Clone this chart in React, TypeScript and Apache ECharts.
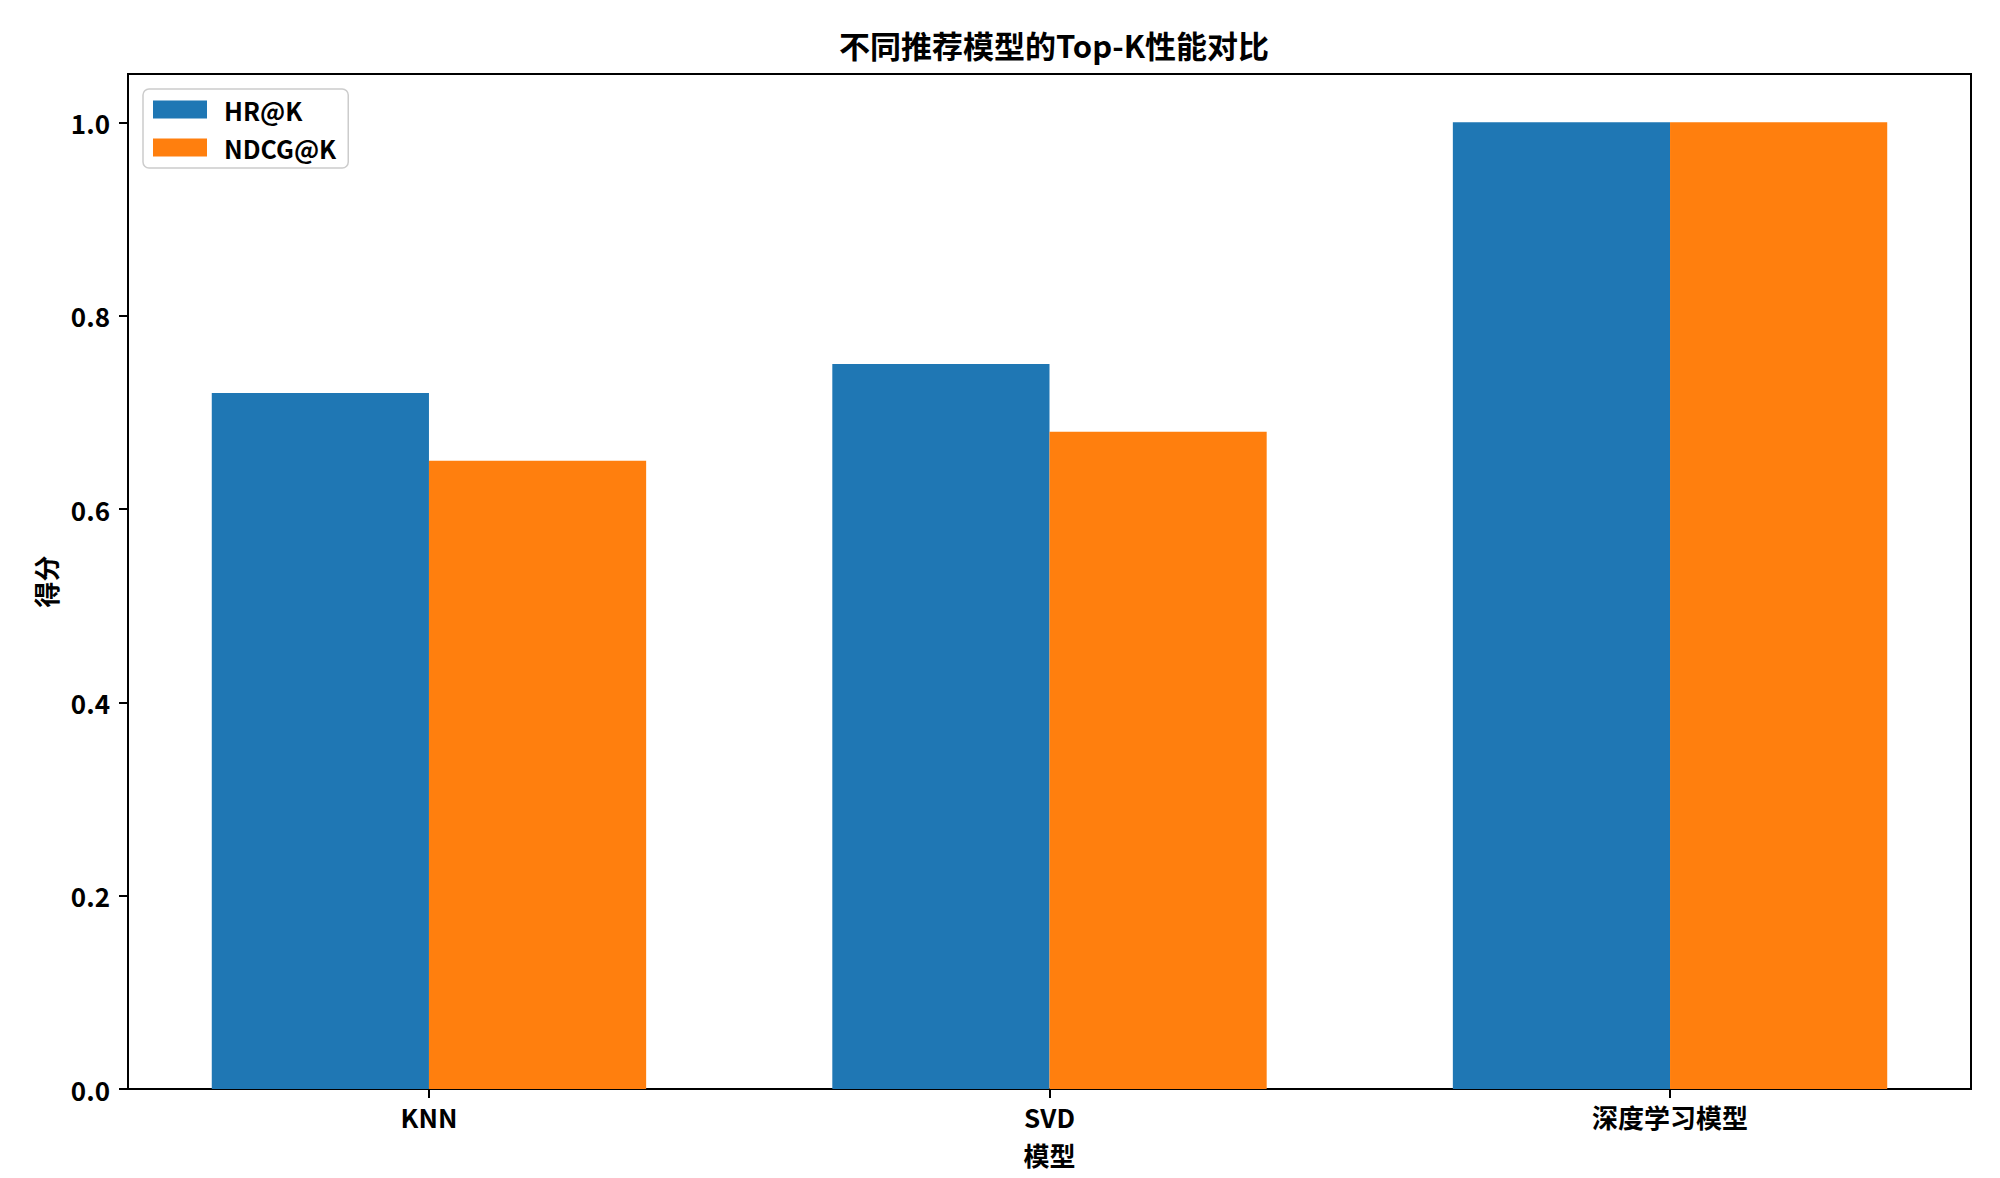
import React, { useEffect, useRef } from "react";
import * as echarts from "echarts";

const categories = ["KNN", "SVD", "深度学习模型"];
const hrValues = [0.72, 0.75, 1.0];
const ndcgValues = [0.65, 0.68, 1.0];
const yTicks = [0, 0.2, 0.4, 0.6, 0.8, 1.0];
const seriesNames = ["HR@K", "NDCG@K"];
const colors = ["#1f77b4", "#ff7f0e"];
const BAR_W = 0.35;
const FONT = "'Noto Sans CJK SC', sans-serif";
const WEIGHT = "bold";

function makeBarSeries(name: string, values: number[], offset: number, color: string) {
  return {
    type: "custom",
    name,
    itemStyle: { color },
    encode: { x: 0, y: 1 },
    data: values.map((v, i) => [i, v]),
    renderItem: (params: any, api: any) => {
      const x = api.value(0);
      const y = api.value(1);
      const p0 = api.coord([x + offset, 0]);
      const p1 = api.coord([x + offset + BAR_W, y]);
      return {
        type: "rect",
        shape: { x: p0[0], y: p1[1], width: p1[0] - p0[0], height: p0[1] - p1[1] },
        style: { fill: color },
      };
    },
  };
}

export default function App() {
  const ref = useRef<HTMLDivElement>(null);
  useEffect(() => {
    const chart = echarts.init(ref.current!, null, { renderer: "svg" });
    chart.setOption({
      animation: false,
      backgroundColor: "#ffffff",
      textStyle: { fontFamily: FONT },
      title: {
        text: "不同推荐模型的Top-K性能对比",
        left: 1049,
        textAlign: "center",
        top: 24,
        textStyle: { fontFamily: FONT, fontSize: 31, fontWeight: WEIGHT, color: "#000" },
      },
      legend: {
        left: 143,
        top: 89,
        orient: "vertical",
        data: seriesNames.map((n) => ({ name: n, icon: "rect" })),
        itemWidth: 54,
        itemHeight: 18,
        itemGap: 13,
        padding: [8, 12, 8, 10],
        backgroundColor: "#ffffff",
        borderColor: "#cccccc",
        borderWidth: 1.5,
        borderRadius: 6,
        textStyle: { fontFamily: FONT, fontSize: 25, fontWeight: WEIGHT, color: "#000", padding: [0, 0, 0, 12] },
      },
      grid: {
        left: 128,
        right: 29,
        top: 74,
        bottom: 89,
        show: true,
        borderColor: "#000",
        borderWidth: 2,
        backgroundColor: "transparent",
      },
      xAxis: {
        type: "value",
        min: -0.485,
        max: 2.485,
        name: "模型",
        nameLocation: "middle",
        nameGap: 52,
        nameTextStyle: { fontFamily: FONT, fontSize: 26, fontWeight: WEIGHT, color: "#000" },
        splitLine: { show: false },
        axisLine: { show: true, onZero: false, lineStyle: { color: "#000", width: 2 } },
        axisTick: { show: true, customValues: [0, 1, 2], length: 9, lineStyle: { color: "#000", width: 2 } },
        axisLabel: {
          customValues: [0, 1, 2],
          formatter: (v: number) => categories[Math.round(v)],
          fontFamily: FONT,
          fontSize: 26,
          fontWeight: WEIGHT,
          color: "#000",
          margin: 14,
        },
      },
      yAxis: {
        type: "value",
        min: 0,
        max: 1.05,
        name: "得分",
        nameLocation: "middle",
        nameGap: 70,
        nameTextStyle: { fontFamily: FONT, fontSize: 26, fontWeight: WEIGHT, color: "#000" },
        splitLine: { show: false },
        axisLine: { show: true, onZero: false, lineStyle: { color: "#000", width: 2 } },
        axisTick: { show: true, customValues: yTicks, length: 9, lineStyle: { color: "#000", width: 2 } },
        axisLabel: {
          customValues: yTicks,
          formatter: (v: number) => v.toFixed(1),
          fontFamily: FONT,
          fontSize: 26,
          fontWeight: WEIGHT,
          color: "#000",
          margin: 18,
        },
      },
      series: [
        makeBarSeries(seriesNames[0], hrValues, -BAR_W, colors[0]),
        makeBarSeries(seriesNames[1], ndcgValues, 0, colors[1]),
      ],
    });
    return () => chart.dispose();
  }, []);
  return (
    <div
      ref={ref}
      style={{ position: "fixed", left: 0, top: 0, width: 2000, height: 1178, background: "#fff" }}
    />
  );
}
